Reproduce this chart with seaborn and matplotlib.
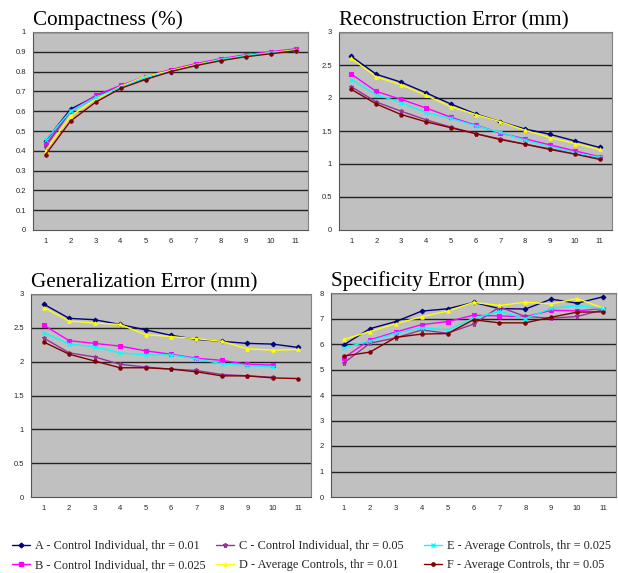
import numpy as np
import pandas as pd
import matplotlib
matplotlib.use("Agg")
import matplotlib.pyplot as plt
import seaborn as sns
from matplotlib.lines import Line2D

x_labels = [1, 2, 3, 4, 5, 6, 7, 8, 9, 10, 11]
series_names = [
    "A - Control Individual, thr = 0.01",
    "B - Control Individual, thr = 0.025",
    "C - Control Individual, thr = 0.05",
    "D - Average Controls, thr = 0.01",
    "E - Average Controls, thr = 0.025",
    "F - Average Controls, thr = 0.05",
]
series_colors = ["#000080", "#FF00FF", "#993399", "#FFFF00", "#00FFFF", "#800000"]
series_markers = ["D", "s", "*", "^", "x", "o"]

nan = np.nan
compactness = {
    "A": [0.45, 0.61, 0.675, 0.725, 0.765, 0.80, 0.835, 0.86, 0.88, 0.895, 0.91],
    "B": [0.43, 0.60, 0.68, 0.73, 0.775, 0.81, 0.84, 0.865, 0.885, 0.90, 0.915],
    "C": [0.42, 0.60, 0.67, 0.725, 0.77, 0.805, 0.835, 0.86, 0.88, 0.895, 0.91],
    "D": [0.40, 0.575, 0.66, 0.725, 0.775, 0.805, 0.835, 0.86, 0.88, 0.895, 0.91],
    "E": [0.455, 0.60, 0.67, 0.72, 0.77, 0.80, 0.83, 0.86, 0.88, 0.895, 0.905],
    "F": [0.38, 0.55, 0.645, 0.715, 0.76, 0.80, 0.83, 0.855, 0.875, 0.89, 0.905],
}
reconstruction = {
    "A": [2.63, 2.36, 2.24, 2.08, 1.91, 1.76, 1.64, 1.53, 1.45, 1.35, 1.25],
    "B": [2.36, 2.10, 1.98, 1.85, 1.71, 1.59, 1.47, 1.38, 1.29, 1.20, 1.11],
    "C": [2.17, 1.94, 1.80, 1.67, 1.56, 1.46, 1.38, 1.30, 1.23, 1.16, 1.09],
    "D": [2.60, 2.32, 2.20, 2.04, 1.87, 1.75, 1.64, 1.51, 1.40, 1.31, 1.22],
    "E": [2.28, 2.05, 1.93, 1.78, 1.69, 1.58, 1.48, 1.36, 1.26, 1.17, 1.10],
    "F": [2.13, 1.91, 1.75, 1.64, 1.55, 1.46, 1.37, 1.30, 1.22, 1.15, 1.07],
}
generalization = {
    "A": [2.85, 2.64, 2.62, 2.55, 2.47, 2.39, 2.33, 2.30, 2.27, 2.26, 2.21],
    "B": [2.54, 2.31, 2.27, 2.23, 2.16, 2.11, 2.05, 2.02, 1.96, 1.95, nan],
    "C": [2.35, 2.13, 2.07, 1.96, 1.92, 1.89, 1.87, 1.81, 1.79, 1.77, nan],
    "D": [2.80, 2.60, 2.57, 2.55, 2.40, 2.37, 2.34, 2.30, 2.19, 2.17, 2.18],
    "E": [2.43, 2.26, 2.22, 2.13, 2.10, 2.10, 2.04, 1.97, 1.94, 1.92, nan],
    "F": [2.29, 2.11, 2.01, 1.91, 1.91, 1.89, 1.85, 1.79, 1.79, 1.76, 1.75],
}
specificity = {
    "A": [5.97, 6.60, 6.88, 7.29, 7.38, 7.63, 7.39, 7.37, 7.76, 7.60, 7.85],
    "B": [5.46, 6.16, 6.47, 6.76, 6.88, 7.13, 7.10, 7.07, 7.32, 7.30, 7.39],
    "C": [5.26, 6.03, 6.24, 6.55, 6.42, 6.78, 7.45, 7.08, 7.01, 7.08, 7.34],
    "D": [6.18, 6.49, 6.79, 7.07, 7.29, 7.63, 7.51, 7.64, 7.57, 7.78, 7.41],
    "E": [5.85, 6.12, 6.42, 6.64, 6.55, 7.01, 7.28, 7.00, 7.40, 7.50, 7.39],
    "F": [5.53, 5.68, 6.26, 6.39, 6.41, 6.95, 6.83, 6.83, 7.05, 7.25, 7.26],
}

panels = [
    ("Compactness (%)", compactness, 1.0, 0.1, [33, 32, 308, 230]),
    ("Reconstruction Error (mm)", reconstruction, 3.0, 0.5, [339, 32, 612, 230]),
    ("Generalization Error (mm)", generalization, 3.0, 0.5, [31, 294, 311, 497]),
    ("Specificity Error (mm)", specificity, 8.0, 1.0, [331, 293, 616, 497]),
]

sns.set_theme(style="white")
plt.rcParams["font.family"] = ["Liberation Sans", "DejaVu Sans"]

W, H = 618, 573
fig = plt.figure(figsize=(W / 100, H / 100), dpi=100)
fig.patch.set_facecolor("white")


def msize(m):
    return 3.6 if m == "*" else 2.4


keys = ["A", "B", "C", "D", "E", "F"]
for title, data, ymax, ystep, (l, t, r, b) in panels:
    ax = fig.add_axes([l / W, 1 - b / H, (r - l) / W, (b - t) / H])
    ax.set_facecolor("#C0C0C0")
    rows = []
    for k in keys:
        for xi, v in zip(x_labels, data[k]):
            rows.append({"x": xi, "y": v, "s": k})
    df = pd.DataFrame(rows)
    for k, c, m in zip(keys, series_colors, series_markers):
        sub = df[df["s"] == k].dropna()
        sns.lineplot(data=sub, x="x", y="y", ax=ax, color=c, marker=m,
                     markersize=msize(m), markeredgecolor=c,
                     markeredgewidth=0.8, linewidth=1.0, legend=False)
    yt = np.arange(0, ymax + ystep / 2, ystep)
    ax.set_ylim(0, ymax)
    ax.set_xlim(0.5, 11.5)
    ax.set_yticks(yt)
    ax.set_yticklabels([("%g" % v) for v in yt], fontsize=5.5)
    ax.set_xticks(x_labels)
    ax.set_xticklabels([str(v) for v in x_labels], fontsize=5.5)
    ax.set_xticks(np.arange(0.5, 12, 1), minor=True)
    ax.tick_params(axis="x", which="major", length=0, pad=6)
    ax.tick_params(axis="x", which="minor", length=3, width=0.8, color="#555555", direction="out")
    ax.tick_params(axis="y", which="major", length=3, width=0.8, color="#555555", direction="out", pad=2)
    for v in yt[1:]:
        ax.axhline(v, color="#222222", linewidth=1.0, zorder=0.5)
    for sname, sp in ax.spines.items():
        sp.set_color("#808080")
        sp.set_linewidth(0.8)
    ax.spines["left"].set_color("#555555")
    ax.spines["bottom"].set_color("#555555")
    ax.set_xlabel("")
    ax.set_ylabel("")
    ax.set_title(title, loc="left", fontsize=15.2, family=["Liberation Serif", "DejaVu Serif"], pad=5, color="black")

handles = [Line2D([0], [0], color=c, marker=m, markersize=msize(m),
                  markeredgecolor=c, linewidth=1.0)
           for c, m in zip(series_colors, series_markers)]

col_x = [12, 216, 424]
for ci in range(3):
    fig.legend(handles[2 * ci:2 * ci + 2], series_names[2 * ci:2 * ci + 2],
               loc="upper left", bbox_to_anchor=(col_x[ci] / W, 1 - 540 / H),
               ncol=1, frameon=False, handlelength=1.45, handletextpad=0.45,
               labelspacing=0.6, borderpad=0.0, borderaxespad=0.0,
               prop={"family": ["Liberation Serif", "DejaVu Serif"], "size": 8.8})

fig.savefig("out.png", dpi=100, facecolor="white")
